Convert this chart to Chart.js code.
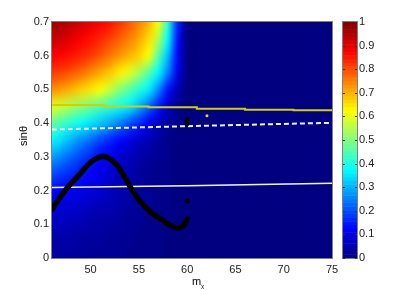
<!DOCTYPE html>
<html>
<head>
    <title>Heatmap</title>
    <script src="https://cdn.jsdelivr.net/npm/chart.js"></script>
    <style>
        body { margin: 0; background: #fff; }
        canvas { display: block; }
    </style>
</head>
<body>
    <canvas id="chart" width="407" height="291"></canvas>
    <script>
        // heatmap grid (x = 46..60, beyond 60 it is 0)
        const heatX = [46, 47, 48, 49, 50, 51, 52, 53, 54, 55, 56, 57, 58, 59, 60];
        const heatY = [0, 0.05, 0.1, 0.15, 0.2, 0.25, 0.3, 0.35, 0.4, 0.45, 0.5, 0.55, 0.6, 0.65, 0.7];
        const heatOutside = 0;
        const heat = [
            [0.03, 0.03, 0.03, 0.03, 0.02, 0.02, 0.02, 0.02, 0.01, 0.01, 0.01, 0.01, 0, 0, 0],
            [0.04, 0.04, 0.04, 0.03, 0.03, 0.03, 0.02, 0.02, 0.02, 0.01, 0.01, 0.01, 0, 0, 0],
            [0.06, 0.06, 0.05, 0.05, 0.04, 0.04, 0.03, 0.03, 0.02, 0.02, 0.01, 0.01, 0.01, 0, 0],
            [0.09, 0.08, 0.08, 0.07, 0.06, 0.05, 0.05, 0.04, 0.03, 0.02, 0.02, 0.01, 0.01, 0, 0],
            [0.13, 0.12, 0.11, 0.1, 0.09, 0.08, 0.06, 0.05, 0.04, 0.03, 0.02, 0.01, 0.01, 0, 0],
            [0.2, 0.18, 0.16, 0.14, 0.12, 0.1, 0.08, 0.06, 0.05, 0.03, 0.02, 0.01, 0.01, 0, 0],
            [0.28, 0.25, 0.22, 0.19, 0.16, 0.13, 0.11, 0.08, 0.06, 0.04, 0.03, 0.02, 0.01, 0, 0],
            [0.37, 0.34, 0.3, 0.26, 0.23, 0.19, 0.16, 0.13, 0.1, 0.07, 0.05, 0.03, 0.01, 0, 0],
            [0.47, 0.44, 0.41, 0.38, 0.35, 0.32, 0.29, 0.25, 0.2, 0.16, 0.11, 0.06, 0.03, 0.01, 0],
            [0.6, 0.57, 0.54, 0.51, 0.48, 0.45, 0.42, 0.39, 0.36, 0.3, 0.23, 0.15, 0.07, 0.02, 0],
            [0.74, 0.72, 0.7, 0.67, 0.65, 0.62, 0.57, 0.51, 0.46, 0.41, 0.36, 0.26, 0.14, 0.05, 0],
            [0.82, 0.81, 0.79, 0.77, 0.74, 0.71, 0.68, 0.64, 0.6, 0.54, 0.46, 0.37, 0.25, 0.1, 0],
            [0.88, 0.87, 0.86, 0.84, 0.82, 0.79, 0.76, 0.73, 0.7, 0.67, 0.62, 0.46, 0.31, 0.12, 0],
            [0.93, 0.92, 0.9, 0.88, 0.86, 0.84, 0.81, 0.78, 0.75, 0.71, 0.66, 0.55, 0.37, 0.14, 0],
            [0.97, 0.96, 0.94, 0.92, 0.9, 0.88, 0.86, 0.83, 0.79, 0.75, 0.7, 0.62, 0.42, 0.16, 0]
        ];

        // black curve
        const curveX = [46, 47.4, 48.8, 50.1, 51.35, 52.55, 53.4, 54.3, 55.3, 56.4, 57.4, 58.4, 59.3, 59.8, 60];
        const curveY = [0.145, 0.202, 0.246, 0.286, 0.301, 0.281, 0.246, 0.202, 0.162, 0.132, 0.113, 0.095, 0.09, 0.103, 0.116];
        const dotX = [60];
        const dotY = [0.169];
        const barX = [60, 60];
        const barY = [0.397, 0.414];

        // yellow step line
        const yellowX = [46, 51.4, 56, 61, 66, 71, 75];
        const yellowY = [0.454, 0.449, 0.447, 0.443, 0.44, 0.438, 0.438];
        const yellowDotX = [62.05];
        const yellowDotY = [0.422];

        // white lines
        const dashX = [46, 60, 75];
        const dashY = [0.381, 0.391, 0.401];
        const solidX = [46, 60, 75];
        const solidY = [0.209, 0.214, 0.222];

        const xTicks = [50, 55, 60, 65, 70, 75];
        const yTicks = [0, 0.1, 0.2, 0.3, 0.4, 0.5, 0.6, 0.7];
        const cbTicks = [0, 0.1, 0.2, 0.3, 0.4, 0.5, 0.6, 0.7, 0.8, 0.9, 1];

        const FONT = '"Liberation Sans", Arial, sans-serif';

        function pts(xs, ys) {
            return xs.map((x, i) => ({ x: x, y: ys[i] }));
        }

        function jet(v) {
            v = Math.max(0, Math.min(1, v));
            const c = t => Math.round(255 * Math.max(0, Math.min(1, t)));
            return [c(1.5 - Math.abs(4 * v - 3)), c(1.5 - Math.abs(4 * v - 2)), c(1.5 - Math.abs(4 * v - 1))];
        }

        const heatPlugin = {
            id: 'heat',
            beforeDatasetsDraw(chart) {
                const { ctx, chartArea: a, scales } = chart;
                const xs = scales.x, ys = scales.y;
                const cols = 30, rows = heatY.length;
                const off = document.createElement('canvas');
                off.width = cols;
                off.height = rows;
                const octx = off.getContext('2d');
                const img = octx.createImageData(cols, rows);
                for (let r = 0; r < rows; r++) {
                    for (let c = 0; c < cols; c++) {
                        const v = c < heatX.length ? heat[r][c] : heatOutside;
                        const rgb = jet(v);
                        const k = ((rows - 1 - r) * cols + c) * 4;
                        img.data[k] = rgb[0];
                        img.data[k + 1] = rgb[1];
                        img.data[k + 2] = rgb[2];
                        img.data[k + 3] = 255;
                    }
                }
                octx.putImageData(img, 0, 0);
                const x0 = xs.getPixelForValue(45.5), x1 = xs.getPixelForValue(75.5);
                const y0 = ys.getPixelForValue(0.725), y1 = ys.getPixelForValue(-0.025);
                ctx.save();
                ctx.beginPath();
                ctx.rect(a.left, a.top, a.right - a.left, a.bottom - a.top);
                ctx.clip();
                ctx.imageSmoothingEnabled = true;
                ctx.imageSmoothingQuality = 'high';
                ctx.drawImage(off, x0, y0, x1 - x0, y1 - y0);
                ctx.restore();
            },
            afterDraw(chart) {
                const { ctx, chartArea: a, scales } = chart;
                const cb = scales.cb;
                ctx.save();
                // plot box
                ctx.strokeStyle = '#808080';
                ctx.lineWidth = 1;
                ctx.strokeRect(a.left - 0.5, a.top - 0.5, a.right - a.left + 1, a.bottom - a.top + 1);

                // colorbar
                const bl = 343, br = 357;
                for (let i = 0; i < 64; i++) {
                    const rgb = jet((i + 0.5) / 64);
                    const yt = cb.getPixelForValue((i + 1) / 64);
                    const yb = cb.getPixelForValue(i / 64);
                    ctx.fillStyle = 'rgb(' + rgb.join(',') + ')';
                    ctx.fillRect(bl, yt, br - bl, yb - yt + 0.5);
                }
                ctx.strokeStyle = '#808080';
                ctx.strokeRect(bl - 0.5, cb.top - 0.5, br - bl + 1, cb.bottom - cb.top + 1);
                ctx.strokeStyle = '#333';
                cbTicks.forEach(t => {
                    const y = Math.round(cb.getPixelForValue(t)) + 0.5;
                    ctx.beginPath();
                    ctx.moveTo(bl, y); ctx.lineTo(bl + 2, y);
                    ctx.moveTo(br - 2, y); ctx.lineTo(br, y);
                    ctx.stroke();
                });

                // axis titles
                ctx.fillStyle = '#000';
                ctx.font = '11px ' + FONT;
                ctx.textBaseline = 'alphabetic';
                ctx.textAlign = 'left';
                const mx = (a.left + a.right) / 2;
                ctx.fillText('m', mx, 285);
                ctx.font = '6px ' + FONT;
                ctx.fillText('χ', mx + 9, 288);

                ctx.font = '11px ' + FONT;
                ctx.translate(27, (a.top + a.bottom) / 2 - 4);
                ctx.rotate(-Math.PI / 2);
                ctx.textAlign = 'center';
                ctx.fillText('sinθ', 0, 0);
                ctx.restore();
            }
        };

        new Chart(document.getElementById('chart'), {
            type: 'line',
            data: {
                datasets: [
                    { data: pts(curveX, curveY), borderColor: '#000', borderWidth: 5.5, tension: 0.4, pointRadius: 0, borderCapStyle: 'round' },
                    { data: pts(dotX, dotY), showLine: false, pointRadius: 2.5, pointBackgroundColor: '#000', pointBorderWidth: 0 },
                    { data: pts(barX, barY), borderColor: '#000', borderWidth: 4, pointRadius: 0, borderCapStyle: 'round' },
                    { data: pts(yellowX, yellowY), borderColor: '#d4d000', borderWidth: 2, pointRadius: 0, stepped: 'before' },
                    { data: pts(yellowDotX, yellowDotY), showLine: false, pointRadius: 1.5, pointBackgroundColor: '#e8e000', pointBorderWidth: 0 },
                    { data: pts(dashX, dashY), borderColor: '#f0f0ff', borderWidth: 2, borderDash: [5, 3], pointRadius: 0 },
                    { data: pts(solidX, solidY), borderColor: '#f4f4ff', borderWidth: 1.5, pointRadius: 0 }
                ]
            },
            options: {
                responsive: false,
                animation: false,
                layout: { padding: { top: 22, left: 0, right: 0, bottom: 0 } },
                plugins: { legend: { display: false }, tooltip: { enabled: false } },
                scales: {
                    x: {
                        type: 'linear', min: 46, max: 75,
                        afterBuildTicks: s => { s.ticks = xTicks.map(v => ({ value: v })); },
                        afterFit: s => { s.height = 33; },
                        grid: { display: false, drawTicks: false },
                        border: { display: false },
                        ticks: { padding: 5, color: '#222', font: { family: FONT, size: 11 }, maxRotation: 0 }
                    },
                    y: {
                        type: 'linear', min: 0, max: 0.7,
                        afterBuildTicks: s => { s.ticks = yTicks.map(v => ({ value: v })); },
                        afterFit: s => { s.width = 52; },
                        grid: { display: false, drawTicks: false },
                        border: { display: false },
                        ticks: { padding: 3, color: '#222', font: { family: FONT, size: 11 }, callback: v => String(+v.toFixed(1)) }
                    },
                    cb: {
                        type: 'linear', position: 'right', min: 0, max: 1,
                        afterBuildTicks: s => { s.ticks = cbTicks.map(v => ({ value: v })); },
                        afterFit: s => { s.width = 75; },
                        grid: { display: true, drawOnChartArea: false, drawTicks: true, tickLength: 24, color: 'rgba(0,0,0,0)' },
                        border: { display: false },
                        ticks: { padding: 3, color: '#222', font: { family: FONT, size: 11 }, callback: v => String(+v.toFixed(1)) }
                    }
                }
            },
            plugins: [heatPlugin]
        });
    </script>
</body>
</html>
